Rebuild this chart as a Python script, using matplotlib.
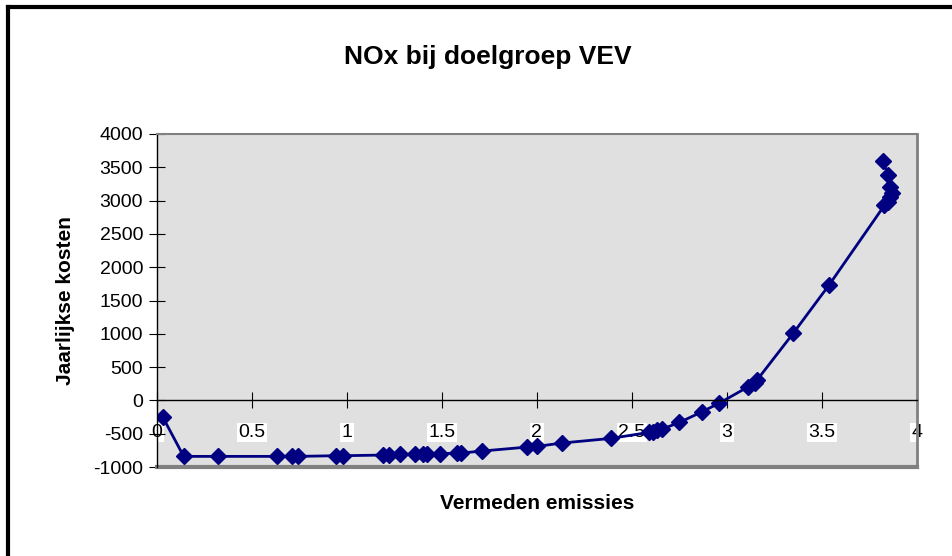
import matplotlib.pyplot as plt
from matplotlib.lines import Line2D

plt.rcParams['font.family'] = ['Liberation Sans', 'DejaVu Sans']
plt.rcParams['axes.unicode_minus'] = False

# data
emissies = [0.03, 0.14, 0.32, 0.63, 0.71, 0.74, 0.94, 0.98, 1.19, 1.22,
            1.28, 1.36, 1.40, 1.42, 1.49, 1.58, 1.60, 1.71, 1.95, 2.00,
            2.13, 2.39, 2.59, 2.61, 2.63, 2.66, 2.75, 2.87, 2.96, 3.11,
            3.15, 3.16, 3.35, 3.54, 3.83, 3.85, 3.86, 3.87, 3.86, 3.85, 3.82]
kosten = [-250, -840, -840, -840, -840, -840, -830, -830, -820, -820,
          -810, -805, -805, -805, -800, -790, -790, -760, -700, -690,
          -640, -570, -480, -470, -450, -430, -330, -170, -40, 200,
          260, 310, 1010, 1740, 2930, 2980, 3050, 3120, 3200, 3380, 3600]

xticks = [0, 0.5, 1, 1.5, 2, 2.5, 3, 3.5, 4]
yticks = list(range(-1000, 4001, 500))

fig = plt.figure(figsize=(9.52, 5.56), dpi=100)
ax = fig.add_axes([0.165, 0.160, 0.798, 0.599])
ax.set_facecolor('#e0e0e0')

ax.plot(emissies, kosten, color='#000080', lw=2, marker='D', ms=8.5,
        markerfacecolor='#000080', markeredgecolor='#000080')

ax.set_xlim(0, 4)
ax.set_ylim(-1000, 4000)
ax.set_xticks(xticks)
ax.set_xticklabels(['0', '0.5', '1', '1.5', '2', '2.5', '3', '3.5', '4'])
ax.set_yticks(yticks)

# x-as kruist bij 0
ax.spines['bottom'].set_position(('data', 0))
ax.spines['bottom'].set_linewidth(1.0)
ax.spines['left'].set_linewidth(1.0)
for s in ['top', 'right']:
    ax.spines[s].set_color('#808080')
    ax.spines[s].set_linewidth(2)
ax.spines['top'].set_linewidth(1.5)

# rand onder van het plotvlak
ax.add_line(Line2D([0, 1], [0, 0], transform=ax.transAxes, color='#808080',
                   lw=3, clip_on=False))

ax.tick_params(axis='x', direction='inout', length=12, pad=11, labelsize=14)
ax.tick_params(axis='y', direction='inout', length=12, pad=4, labelsize=14)
for lab in ax.get_xticklabels():
    lab.set_bbox(dict(facecolor='white', edgecolor='none', pad=1))

fig.text(0.512, 0.897, 'NOx bij doelgroep VEV', ha='center', va='center',
         fontsize=19, fontweight='bold')
fig.text(0.564, 0.095, 'Vermeden emissies', ha='center', va='center',
         fontsize=15, fontweight='bold')
fig.text(0.069, 0.46, 'Jaarlijkse kosten', ha='center', va='center',
         fontsize=15, fontweight='bold', rotation=90)

# zwarte rand links en boven
fig.add_artist(Line2D([0.0085, 0.0085], [0, 0.988], color='black', lw=3))
fig.add_artist(Line2D([0.0085, 1.0], [0.988, 0.988], color='black', lw=3))

fig.savefig('out.png', dpi=100)
